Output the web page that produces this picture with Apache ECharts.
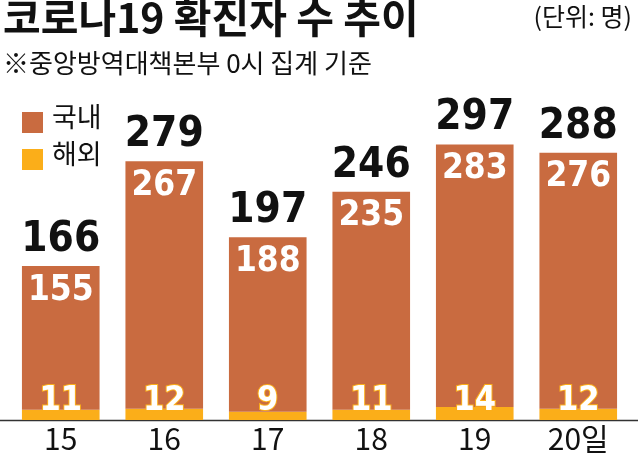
<!DOCTYPE html>
<html><head><meta charset="utf-8">
<script src="https://cdn.jsdelivr.net/npm/echarts@6/dist/echarts.min.js"></script>
<style>html,body{margin:0;padding:0;background:#fff}#c{width:638px;height:465px}</style>
</head><body><div id="c"></div>
<script>
const categories = ['15', '16', '17', '18', '19', '20일'];
const domestic = [155, 267, 188, 235, 283, 276];
const overseas = [11, 12, 9, 11, 14, 12];
const totals = [166, 279, 197, 246, 297, 288];

const NUMFONT = '"DejaVu Sans Condensed", "Liberation Sans Narrow", sans-serif';
const KFONT = '"Noto Sans CJK KR", sans-serif';
const C_DOM = '#C96B40';
const C_OVS = '#FBAE19';

const chart = echarts.init(document.getElementById('c'), null, {renderer: 'canvas'});
chart.setOption({
  backgroundColor: '#fff',
  animation: false,
  grid: {left: 9, right: 8, top: 100, bottom: 45},
  xAxis: {
    type: 'category', data: categories,
    axisLine: {show: false}, axisTick: {show: false},
    axisLabel: {color: '#111', fontSize: 30, fontFamily: KFONT, margin: 4}
  },
  yAxis: {type: 'value', min: 0, max: 345, show: false},
  graphic: [
    {type: 'text', left: 3, top: -3, style: {text: '코로나19 확진자 수 추이', font: 'bold 41px ' + KFONT, fill: '#111'}},
    {type: 'text', right: 6, top: 4, style: {text: '(단위: 명)', font: '25px ' + KFONT, fill: '#111'}},
    {type: 'text', left: 3, top: 50, style: {text: '※중앙방역대책본부 0시 집계 기준', font: '26px ' + KFONT, fill: '#111'}},
    {type: 'rect', left: 22, top: 112, shape: {width: 21, height: 21}, style: {fill: C_DOM}},
    {type: 'text', left: 52, top: 103, style: {text: '국내', font: '27px ' + KFONT, fill: '#111'}},
    {type: 'rect', left: 22, top: 149, shape: {width: 21, height: 21}, style: {fill: C_OVS}},
    {type: 'text', left: 52, top: 140, style: {text: '해외', font: '27px ' + KFONT, fill: '#111'}},
    {type: 'line', shape: {x1: 0, y1: 420.5, x2: 638, y2: 420.5}, style: {stroke: '#333', lineWidth: 1.5}}
  ],
  series: [
    {
      name: '해외', type: 'bar', stack: 't', data: overseas, barWidth: '75%',
      itemStyle: {color: C_OVS},
      label: {show: true, position: 'insideBottom', distance: 2, color: '#fff',
        fontSize: 34, fontWeight: 'bold', fontFamily: NUMFONT,
        textBorderColor: C_OVS, textBorderWidth: 2}
    },
    {
      name: '국내', type: 'bar', stack: 't', data: domestic, barWidth: '75%',
      itemStyle: {color: C_DOM},
      label: {show: true, position: 'insideTop', distance: 7, color: '#fff',
        fontSize: 35, fontWeight: 'bold', fontFamily: NUMFONT}
    },
    {
      name: 'total', type: 'bar', stack: 't', data: totals.map(() => 0), barWidth: '75%',
      itemStyle: {color: 'transparent'},
      label: {show: true, position: 'top', distance: 5, color: '#111',
        fontSize: 42, fontWeight: 'bold', fontFamily: NUMFONT,
        formatter: p => totals[p.dataIndex]}
    }
  ]
});
</script></body></html>
